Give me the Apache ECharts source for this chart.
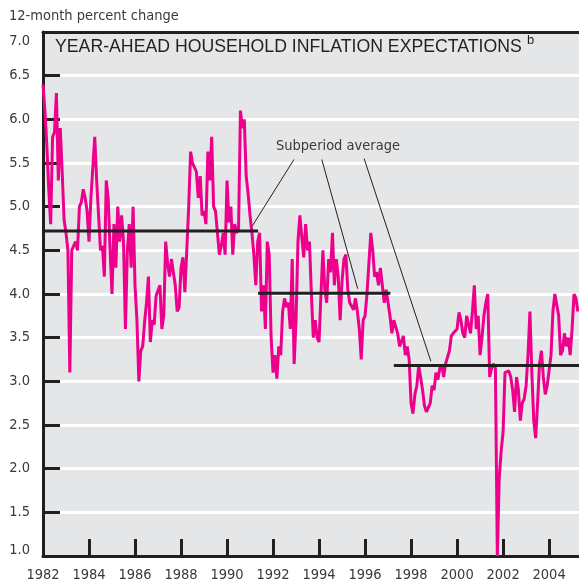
<!DOCTYPE html>
<html>
<head>
<meta charset="utf-8">
<script src="https://cdn.jsdelivr.net/npm/echarts@6.0.0/dist/echarts.min.js"></script>
<style>
  html, body { margin: 0; padding: 0; background: #fff; }
  #main { width: 579px; height: 586px; }
</style>
</head>
<body>
<div id="main"></div>
<script>
// monthly readings, first point = Jan 1982
const startYear = 1982
const endYear = 2005.3
const yearTicks = [1982, 1984, 1986, 1988, 1990, 1992, 1994, 1996, 1998, 2000, 2002, 2004]

const expectations = [
  6.4, 6.1, 5.7, 5.2, 4.8, 5.8, 5.85, 6.3, 5.3, 5.9, 5.4, 4.85,      // 1982
  4.7, 4.5, 3.1, 4.5, 4.55, 4.6, 4.5, 5.0, 5.05, 5.2, 5.1, 4.95,     // 1983
  4.6, 5.1, 5.1, 5.8, 5.3, 4.9, 4.5, 4.55, 4.2, 5.3, 5.1, 4.5,       // 1984
  4.0, 4.8, 4.3, 5.0, 4.6, 4.9, 4.6, 3.6, 4.5, 4.8, 4.3, 5.0,        // 1985
  4.1, 3.7, 3.0, 3.35, 3.4, 3.68, 3.9, 4.2, 3.45, 3.7, 3.65, 3.98,   // 1986
  4.0, 4.1, 3.6, 3.75, 4.6, 4.35, 4.2, 4.4, 4.25, 4.1, 3.8, 3.85,    // 1987
  4.3, 4.42, 4.02, 4.5, 5.0, 5.63, 5.5, 5.45, 5.4, 5.1, 5.35, 4.9,   // 1988
  4.95, 4.8, 5.63, 5.3, 5.8, 5.0, 4.95, 4.7, 4.45, 4.55, 4.7, 4.45,  // 1989
  5.3, 4.82, 5.0, 4.45, 4.8, 4.7, 4.75, 6.1, 5.9, 6.0, 5.35, 5.15,   // 1990
  4.9, 4.7, 4.45, 4.1, 4.6, 4.7, 3.8, 4.1, 3.6, 4.6, 4.45, 3.5,      // 1991
  3.1, 3.3, 3.03, 3.4, 3.3, 3.8, 3.95, 3.85, 3.9, 3.6, 4.4, 3.2,     // 1992
  3.7, 4.6, 4.9, 4.65, 4.42, 4.8, 4.5, 4.6, 4.0, 3.5, 3.7, 3.5,      // 1993
  3.45, 4.0, 4.5, 4.05, 3.9, 4.4, 4.25, 4.7, 4.1, 4.4, 4.2, 3.7,     // 1994
  4.15, 4.4, 4.45, 4.05, 3.9, 3.9, 3.82, 3.95, 3.8, 3.6, 3.25, 3.7,  // 1995
  3.75, 4.0, 4.35, 4.7, 4.5, 4.2, 4.25, 4.1, 4.3, 4.1, 3.9, 4.05,    // 1996
  3.9, 3.75, 3.55, 3.7, 3.68, 3.55, 3.4, 3.4, 3.52, 3.3, 3.4, 3.25,  // 1997
  2.75, 2.63, 2.85, 2.95, 3.18, 3.18, 2.9, 2.72, 2.65, 2.7, 2.75, 2.95, // 1998
  2.9, 3.1, 3.02, 3.15, 3.18, 3.05, 3.2, 3.2, 3.35, 3.52, 3.55, 3.55,   // 1999
  3.6, 3.79, 3.7, 3.55, 3.5, 3.75, 3.65, 3.55, 3.8, 4.1, 3.6, 3.75,     // 2000
  3.3, 3.5, 3.75, 3.9, 4.0, 3.05, 3.15, 3.2, 3.15, 1.0, 1.9, 2.2,       // 2001
  2.42, 3.1, 3.12, 3.12, 3.05, 2.9, 2.65, 3.05, 2.9, 2.55, 2.75, 2.8,   // 2002
  2.95, 3.3, 3.8, 3.1, 2.55, 2.35, 2.75, 3.2, 3.35, 3.05, 2.85, 2.95,   // 2003
  2.95, 3.3, 3.8, 4.0, 4.0, 3.75, 3.3, 3.35, 3.55, 3.4, 3.5, 3.3,       // 2004
  3.6, 4.0, 3.95, 3.8                                                   // 2005
]

// subperiod averages
const avgFrom = [1982, 1991.35, 1997.25]
const avgTo = [1991.35, 1997.1, 2005.3]
const avgValue = [4.72, 4.01, 3.18]

// leader lines: label -> average line
const leaderFrom = [[1992.91, 5.54], [1994.12, 5.54], [1995.96, 5.55]]
const leaderTo = [[1991.10, 4.78], [1995.68, 4.06], [1998.86, 3.23]]

const narrow = "'DejaVu Sans Condensed', 'Liberation Sans Narrow', sans-serif"
const ink = '#231f20'
const textColor = '#3a3a3a'
const labelFont = { color: textColor, fontSize: 14.5, fontFamily: narrow }

let chart = echarts.init(document.getElementById('main'))

let series = [
  {
    name: 'expectations',
    type: 'line',
    symbol: 'none',
    z: 2,
    lineStyle: { color: '#ec008c', width: 3 },
    data: expectations.map((v, i) => [startYear + i / 12, v])
  }
]
avgValue.forEach((v, k) => {
  series.push({
    type: 'line',
    symbol: 'none',
    z: 3,
    lineStyle: { color: ink, width: 3 },
    data: [[avgFrom[k], v], [avgTo[k], v]]
  })
})
leaderFrom.forEach((p, k) => {
  series.push({
    type: 'line',
    symbol: 'none',
    z: 3,
    lineStyle: { color: ink, width: 1 },
    data: [p, leaderTo[k]]
  })
})

let option = {
  animation: false,
  backgroundColor: '#fff',
  grid: {
    left: 43,
    right: 0,
    top: 32,
    bottom: 30,
    show: true,
    backgroundColor: '#e5e6e8',
    borderWidth: 0
  },
  xAxis: [
    {
      type: 'value',
      min: startYear,
      max: endYear,
      interval: 2,
      axisLine: { lineStyle: { color: ink, width: 3 } },
      axisTick: {
        inside: true,
        length: 17,
        customValues: yearTicks,
        lineStyle: { color: ink, width: 3 }
      },
      axisLabel: Object.assign({
        customValues: yearTicks,
        margin: 12,
        formatter: v => String(v)
      }, labelFont),
      splitLine: { show: false }
    },
    {
      type: 'value',
      position: 'top',
      min: startYear,
      max: endYear,
      axisLine: { show: true, lineStyle: { color: ink, width: 3 } },
      axisTick: { show: false },
      axisLabel: { show: false },
      splitLine: { show: false }
    }
  ],
  yAxis: {
    type: 'value',
    min: 1,
    max: 7,
    interval: 0.5,
    axisLine: { show: true, lineStyle: { color: ink, width: 3 } },
    axisTick: {
      show: true,
      inside: true,
      length: 17,
      lineStyle: { color: ink, width: 3 }
    },
    axisLabel: Object.assign({
      margin: 13,
      formatter: v => {
        // end labels sit inside the frame
        if (v === 7) return '{hi|7.0}'
        if (v === 1) return '{lo|1.0}'
        return v.toFixed(1)
      },
      rich: {
        hi: Object.assign({ padding: [18, 0, 0, 0] }, labelFont),
        lo: Object.assign({ padding: [0, 0, 12, 0] }, labelFont)
      }
    }, labelFont),
    splitLine: { lineStyle: { color: '#ffffff', width: 3 } }
  },
  graphic: [
    {
      type: 'text',
      left: 9,
      top: 9,
      style: { text: '12-month percent change', fill: textColor, font: '14.5px ' + narrow }
    },
    {
      type: 'text',
      left: 55,
      top: 38,
      style: { text: 'YEAR-AHEAD HOUSEHOLD INFLATION EXPECTATIONS', fill: ink, font: '17.7px "Liberation Sans", Arial, sans-serif' }
    },
    {
      type: 'text',
      left: 527,
      top: 34,
      style: { text: 'b', fill: ink, font: '13px "Liberation Sans", Arial, sans-serif' }
    },
    {
      type: 'text',
      left: 276,
      top: 139,
      style: { text: 'Subperiod average', fill: textColor, font: '14.5px ' + narrow }
    }
  ],
  series: series
}

chart.setOption(option)
</script>
</body>
</html>
